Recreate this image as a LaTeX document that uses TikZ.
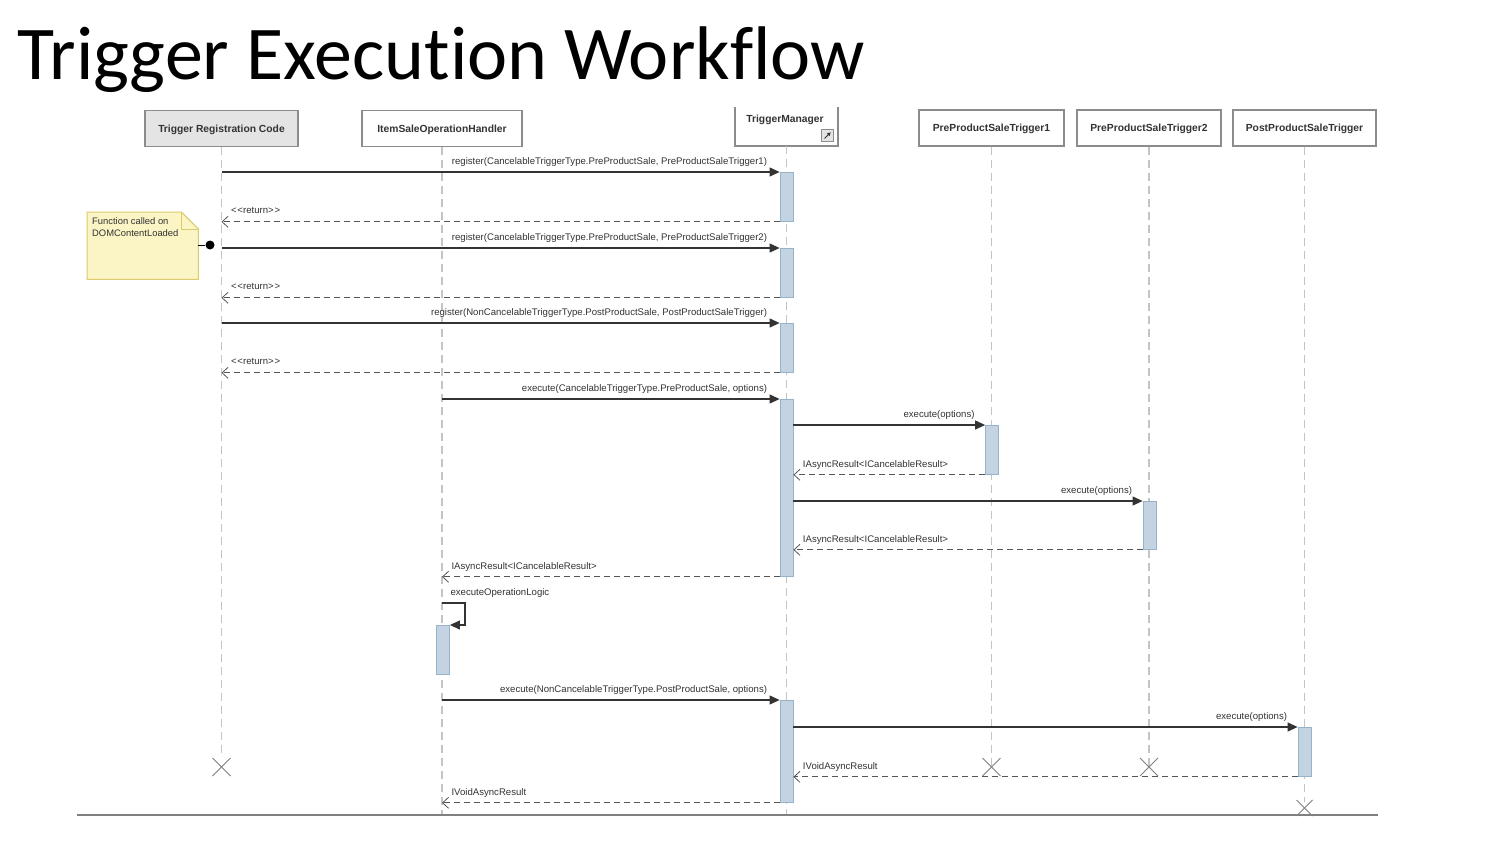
\documentclass[tikz,border=0pt]{standalone}
\usepackage{fontspec}
\setmainfont{Liberation Sans}
\newfontfamily\titlefont{Carlito}[Ligatures=NoCommon]
\usetikzlibrary{arrows.meta,calc}
\definecolor{hdrgray}{HTML}{8C8C8C}
\definecolor{hdrtext}{HTML}{333333}
\definecolor{lifegray}{HTML}{C4C4C4}
\definecolor{msggray}{HTML}{333333}
\definecolor{retgray}{HTML}{555555}
\definecolor{barfill}{HTML}{C3D3E1}
\definecolor{barline}{HTML}{97B3CA}
\definecolor{notefill}{HTML}{FBF4C4}
\definecolor{noteline}{HTML}{DCCB6C}
\definecolor{xgray}{HTML}{808080}
\definecolor{trcfill}{HTML}{E4E4E4}
\tikzset{
  hdr/.style={draw=hdrgray, line width=1.2pt, fill=white, minimum height=36pt, inner sep=2pt,
    font=\bfseries\fontsize{10.3}{12}\selectfont, text=hdrtext},
  hdrline/.style={draw=hdrgray, line width=1.2pt},
  lifeline/.style={draw=lifegray, line width=1.3pt, dash pattern=on 8pt off 5pt},
  actbar/.style={draw=barline, fill=barfill, line width=0.8pt, minimum width=13pt, inner sep=0pt, anchor=north},
  call/.style={draw=msggray, line width=1.1pt, -{Triangle[length=10pt,width=9pt]}},
  ret/.style={draw=retgray, line width=1.1pt, dash pattern=on 6pt off 4pt, -{Straight Barb[length=6pt,width=11pt,line width=0.8pt]}},
  msg/.style={font=\fontsize{9.6}{11}\selectfont, text=msggray, inner sep=1pt},
  callmsg/.style={msg, pos=1, anchor=south east, xshift=-11pt, yshift=4pt},
  retmsg/.style={msg, pos=1, anchor=south west, xshift=8pt, yshift=4pt},
  destroy/.style={draw=xgray, line width=1pt},
}
\begin{document}
\begin{tikzpicture}[x=1pt,y=-1pt]
\useasboundingbox (0,0) rectangle (1486,844);
\fill[white] (0,0) rectangle (1486,844);

% title
\node[anchor=base west, inner sep=0pt, font=\titlefont\fontsize{76}{80}\selectfont] (title) at (17,79) {Trigger Execution Workflow};

% headers
\node[hdr, fill=trcfill, minimum width=153pt, text depth=0pt] (trc) at (221.5,128.5) {Trigger Registration Code};
\node[hdr, minimum width=160pt, text depth=0pt] (isoh) at (442,128.5) {ItemSaleOperationHandler};
\node[hdr, minimum width=145pt, text depth=0pt] (p1) at (991.5,128) {PreProductSaleTrigger1};
\node[hdr, minimum width=144pt, text depth=0pt] (p2) at (1149,128) {PreProductSaleTrigger2};
\node[hdr, minimum width=143pt, text depth=0pt] (pst) at (1304.5,128) {PostProductSaleTrigger};
% TriggerManager (top cut)
\draw[hdrline] (735,107) |- (838,146) -- (838,107);
\node[font=\bfseries\fontsize{10.3}{12}\selectfont, text=hdrtext, inner sep=1pt] (tmname) at (785,119.5) {TriggerManager};
\node[draw=hdrgray, fill=trcfill, line width=0.8pt, minimum size=12pt, inner sep=0pt] (tmicon) at (827.5,135.5) {};
\draw[hdrtext, line width=0.9pt, -{Triangle[length=3.5pt,width=3.5pt]}] ($(tmicon.center)+(-3,3)$) -- ($(tmicon.center)+(3.2,-3.2)$);
\coordinate (tm) at (786.5,146);

% destruction points
\coordinate (xtrc) at (221.5,767);
\coordinate (xp1) at (991.5,767);
\coordinate (xp2) at (1149,767);
\coordinate (xpst) at (1304.5,808);
\coordinate (bot) at (786.5,815);

% lifelines
\draw[lifeline] (trc.south) -- ($(xtrc)+(0,-9)$);
\draw[lifeline] (isoh.south) -- (isoh.south |- bot);
\draw[lifeline] (tm) -- (bot);
\draw[lifeline] (p1.south) -- (xp1);
\draw[lifeline] (p2.south) -- (xp2);
\draw[lifeline] (pst.south) -- ($(xpst)+(0,-6)$);

% bottom line
\coordinate (bl) at (77,815);
\coordinate (br) at (1378,815);
\draw[xgray, line width=1.2pt] (bl) -- (br);

% activation bars
\node[actbar, minimum height=49pt] (a1) at (786.5,172) {};
\node[actbar, minimum height=49pt] (a2) at (786.5,248) {};
\node[actbar, minimum height=49pt] (a3) at (786.5,323) {};
\node[actbar, minimum height=177pt] (a4) at (786.5,399) {};
\node[actbar, minimum height=49pt] (b1) at (992,425) {};
\node[actbar, minimum height=48pt] (b2) at (1149.5,501) {};
\node[actbar, minimum height=49pt] (a5) at (443,625) {};
\node[actbar, minimum height=102pt] (a6) at (786.5,700) {};
\node[actbar, minimum height=49pt] (b3) at (1304.5,727) {};

% destroy marks
\foreach \p/\s in {xtrc/9, xp1/9, xp2/9, xpst/8}{
  \draw[destroy] ($(\p)+(-\s,-\s)$) -- ($(\p)+(\s,\s)$);
  \draw[destroy] ($(\p)+(-\s,\s)$) -- ($(\p)+(\s,-\s)$);
}

% messages
\draw[call] (trc.south |- a1.north west) -- (a1.north west)
  node[callmsg] {register(CancelableTriggerType.PreProductSale, PreProductSaleTrigger1)};
\draw[ret] (a1.south west) -- (trc.south |- a1.south west)
  node[retmsg, yshift=3pt] {<\kern0.8pt<return>\kern0.8pt>};
\draw[call] (trc.south |- a2.north west) -- (a2.north west)
  node[callmsg] {register(CancelableTriggerType.PreProductSale, PreProductSaleTrigger2)};
\draw[ret] (a2.south west) -- (trc.south |- a2.south west)
  node[retmsg, yshift=3pt] {<\kern0.8pt<return>\kern0.8pt>};
\draw[call] (trc.south |- a3.north west) -- (a3.north west)
  node[callmsg] {register(NonCancelableTriggerType.PostProductSale, PostProductSaleTrigger)};
\draw[ret] (a3.south west) -- (trc.south |- a3.south west)
  node[retmsg, yshift=3pt] {<\kern0.8pt<return>\kern0.8pt>};

\draw[call] (isoh.south |- a4.north west) -- (a4.north west)
  node[callmsg] {execute(CancelableTriggerType.PreProductSale, options)};
\draw[call] (a4.east |- b1.north west) -- (b1.north west)
  node[callmsg, xshift=2pt] {execute(options)};
\draw[ret] (b1.south west) -- (a4.east |- b1.south west)
  node[retmsg] {IAsyncResult<ICancelableResult>};
\draw[call] (a4.east |- b2.north west) -- (b2.north west)
  node[callmsg, xshift=2pt] {execute(options)};
\draw[ret] (b2.south west) -- (a4.east |- b2.south west)
  node[retmsg] {IAsyncResult<ICancelableResult>};
\draw[ret] (a4.south west) -- (isoh.south |- a4.south west)
  node[retmsg] {IAsyncResult<ICancelableResult>};

% self message
\coordinate (selfc) at (465,603);
\draw[call] (isoh.south |- selfc) node[msg, anchor=south west, xshift=7pt, yshift=4pt] {executeOperationLogic}
  -- (selfc) |- (a5.north east);

\draw[call] (isoh.south |- a6.north west) -- (a6.north west)
  node[callmsg] {execute(NonCancelableTriggerType.PostProductSale, options)};
\draw[call] (a6.east |- b3.north west) -- (b3.north west)
  node[callmsg, xshift=2pt] {execute(options)};
\draw[ret] (b3.south west) -- (a6.east |- b3.south west)
  node[retmsg] {IVoidAsyncResult};
\draw[ret] (a6.south west) -- (isoh.south |- a6.south west)
  node[retmsg] {IVoidAsyncResult};

% note
\node[minimum width=111pt, minimum height=67pt, inner sep=0pt, anchor=north west] (note) at (87,212) {};
\draw[noteline, fill=notefill, line width=1pt]
  (note.north west) -- ($(note.north east)+(-17,0)$) -- ($(note.north east)+(0,17)$) -- (note.south east) -- (note.south west) -- cycle;
\draw[noteline, line width=1pt] ($(note.north east)+(-17,0)$) -- ($(note.north east)+(-17,17)$) -- ($(note.north east)+(0,17)$);
\node[anchor=north west, align=left, inner sep=0pt, font=\fontsize{9.4}{12}\selectfont, text=msggray] (notetext) at (92,217) {Function called on\\DOMContentLoaded};
\node[circle, fill=black, inner sep=0pt, minimum size=9pt] (dot) at (210,245) {};
\draw[black, line width=1pt] (note.east |- dot) -- (dot);
\end{tikzpicture}
\end{document}
